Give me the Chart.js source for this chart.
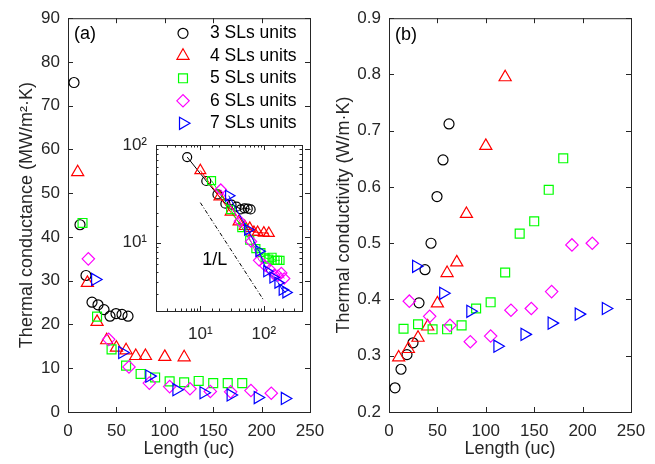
<!DOCTYPE html>
<html>
<head>
<meta charset="utf-8">
<script src="https://cdn.jsdelivr.net/npm/chart.js@4.4.0/dist/chart.umd.min.js"></script>
<style>
  html, body { margin: 0; padding: 0; background: #fff; }
  #wrap { position: relative; width: 655px; height: 464px; }
  #wrap canvas { position: absolute; left: 0; top: 0; }
</style>
</head>
<body>
<div id="wrap">
  <canvas id="cA" width="655" height="464"></canvas>
  <canvas id="cB" width="655" height="464"></canvas>
  <canvas id="cIn" width="655" height="464"></canvas>
</div>
<script>
'use strict';

// lengths (uc) for each superlattice series
var len3 = [6.2, 12.4, 18.6, 24.8, 31, 37.2, 43.4, 49.6, 55.8, 62];
var len4 = [10, 20, 30, 40, 50, 60, 70, 80, 100, 120];
var len5 = [15, 30, 45, 60, 75, 90, 105, 120, 135, 150, 165, 180];
var len6 = [21, 42, 63, 84, 105, 126, 147, 168, 189, 210];
var len7 = [28, 56, 84, 112, 140, 168, 196, 224];

// thermal conductance (MW/m2K), panel (a) and inset
var G3 = [75.3, 42.8, 31.2, 25.1, 24.5, 23.4, 21.9, 22.5, 22.3, 21.9];
var G4 = [54.8, 29.5, 20.6, 16.4, 14.7, 14.1, 12.8, 12.8, 12.6, 12.5];
var G5 = [43.2, 21.8, 14.3, 10.6, 8.7, 7.9, 7.0, 6.8, 7.1, 6.6, 6.6, 6.6];
var G6 = [35.0, 16.6, 10.3, 6.6, 5.8, 5.3, 4.7, 4.6, 4.9, 4.3];
var G7 = [30.3, 13.6, 8.2, 5.1, 4.4, 3.9, 3.3, 3.1];

// thermal conductivity (W/mK), panel (b)
var k3 = [0.243, 0.276, 0.302, 0.323, 0.394, 0.453, 0.500, 0.583, 0.648, 0.712];
var k4 = [0.297, 0.312, 0.332, 0.352, 0.393, 0.447, 0.466, 0.552, 0.673, 0.795];
var k5 = [0.348, 0.356, 0.347, 0.347, 0.354, 0.384, 0.395, 0.448, 0.517, 0.539, 0.595, 0.651];
var k6 = [0.397, 0.370, 0.354, 0.325, 0.335, 0.381, 0.384, 0.414, 0.497, 0.500];
var k7 = [0.459, 0.411, 0.379, 0.317, 0.338, 0.358, 0.374, 0.384];

// 1/L guide line in the inset
var guideX = [10, 100];
var guideY = [25.7, 2.57];

var names = ['3 SLs units', '4 SLs units', '5 SLs units', '6 SLs units', '7 SLs units'];
var lengths = [len3, len4, len5, len6, len7];
var conductance = [G3, G4, G5, G6, G7];
var conductivity = [k3, k4, k5, k6, k7];

// styles
var colors = ['#000000', '#ff0000', '#00ff00', '#ff00ff', '#0000ff'];
var shapes = ['circle', 'triangle', 'rect', 'rectRot', 'triangle'];
var turns = [0, 0, 0, 0, 90];
var sizes = [5, 7, 6.3, 6.2, 7];

var INK = '#262626';
var FONT = '"Liberation Sans", Arial, Helvetica, sans-serif';
Chart.defaults.font.family = FONT;
Chart.defaults.color = INK;

function pairs(xs, ys) {
  return xs.map(function (v, j) { return { x: v, y: ys[j] }; });
}

function markerSets(values, scale, withLine) {
  return names.map(function (n, i) {
    return {
      label: n,
      data: pairs(lengths[i], values[i]),
      pointStyle: shapes[i],
      pointRotation: turns[i],
      pointRadius: sizes[i] * scale,
      pointBorderColor: colors[i],
      pointBackgroundColor: 'rgba(0,0,0,0)',
      pointBorderWidth: 1.2,
      borderColor: colors[i],
      borderWidth: 1,
      showLine: withLine,
      order: names.length - i + 1
    };
  });
}

function tickLen(scale, v) {
  if (scale.type === 'logarithmic') {
    var e = Math.log10(v);
    return Math.abs(e - Math.round(e)) < 1e-6 ? 5 : 2.5;
  }
  return 5;
}

// box around plot area with inward ticks on all sides
var boxTicks = {
  id: 'boxTicks',
  beforeDatasetsDraw: function (chart) {
    var ctx = chart.ctx, a = chart.chartArea;
    var xs = chart.scales.x, ys = chart.scales.y;
    ctx.save();
    ctx.strokeStyle = INK;
    ctx.lineWidth = 1;
    ctx.strokeRect(a.left + 0.5, a.top + 0.5, a.right - a.left, a.bottom - a.top);
    ctx.beginPath();
    xs.ticks.forEach(function (t) {
      var p = Math.round(xs.getPixelForValue(t.value)) + 0.5;
      var l = tickLen(xs, t.value);
      ctx.moveTo(p, a.bottom); ctx.lineTo(p, a.bottom - l);
      ctx.moveTo(p, a.top); ctx.lineTo(p, a.top + l);
    });
    ys.ticks.forEach(function (t) {
      var p = Math.round(ys.getPixelForValue(t.value)) + 0.5;
      var l = tickLen(ys, t.value);
      ctx.moveTo(a.left, p); ctx.lineTo(a.left + l, p);
      ctx.moveTo(a.right, p); ctx.lineTo(a.right - l, p);
    });
    ctx.stroke();
    ctx.restore();
  }
};

// white background for the inset plot area
var whiteBox = {
  id: 'whiteBox',
  beforeDraw: function (chart) {
    var ctx = chart.ctx, a = chart.chartArea;
    ctx.save();
    ctx.fillStyle = '#ffffff';
    ctx.fillRect(a.left, a.top, a.right - a.left, a.bottom - a.top);
    ctx.restore();
  }
};

// free text labels: (a), (b), 1/L
var notes = {
  id: 'notes',
  afterDatasetsDraw: function (chart, args, opts) {
    var ctx = chart.ctx;
    (opts.items || []).forEach(function (it) {
      var x = it.data ? chart.scales.x.getPixelForValue(it.x) : it.x;
      var y = it.data ? chart.scales.y.getPixelForValue(it.y) : it.y;
      ctx.save();
      ctx.fillStyle = it.color || '#000';
      ctx.font = (it.size || 18) + 'px ' + FONT;
      ctx.textAlign = 'left';
      ctx.textBaseline = 'middle';
      ctx.fillText(it.text, x, y);
      ctx.restore();
    });
  }
};

// legend drawn inside panel (a)
var keyBox = {
  id: 'keyBox',
  afterDatasetsDraw: function (chart, args, opts) {
    var ctx = chart.ctx;
    names.forEach(function (n, i) {
      var y = opts.top + i * opts.step;
      ctx.save();
      ctx.strokeStyle = colors[i];
      ctx.fillStyle = 'rgba(0,0,0,0)';
      ctx.lineWidth = 1.2;
      Chart.helpers.drawPoint(ctx, { pointStyle: shapes[i], rotation: turns[i], radius: sizes[i], borderWidth: 1.2 }, opts.mark, y);
      ctx.restore();
      ctx.save();
      ctx.fillStyle = '#000';
      ctx.font = opts.size + 'px ' + FONT;
      ctx.textAlign = 'left';
      ctx.textBaseline = 'middle';
      ctx.fillText(n, opts.text, y);
      ctx.restore();
    });
  }
};

function linAxis(min, max, step, title, fixed, isX, titlePad) {
  return {
    type: 'linear',
    min: min, max: max,
    grid: { display: false, drawTicks: false },
    border: { display: false },
    ticks: {
      stepSize: step, autoSkip: false, padding: isX ? 9 : 8,
      maxRotation: 0, minRotation: 0,
      color: INK, font: { size: 17 },
      callback: function (v) { return step < 1 ? v.toFixed(1) : String(v); }
    },
    title: { display: true, text: title, color: INK, font: { size: 18 }, padding: titlePad },
    afterFit: function (s) { if (isX) { s.height = fixed; } else { s.width = fixed; } }
  };
}

function logAxis(min, max, fixed, isX) {
  return {
    type: 'logarithmic',
    min: min, max: max,
    grid: { display: false, drawTicks: false },
    border: { display: false },
    ticks: {
      autoSkip: false, padding: isX ? 13 : 9,
      maxRotation: 0, minRotation: 0,
      color: INK, font: { size: 17 },
      callback: function (v) {
        var e = Math.log10(v);
        if (Math.abs(e - 1) < 1e-6) return '10\u00b9';
        if (Math.abs(e - 2) < 1e-6) return '10\u00b2';
        return '';
      }
    },
    afterFit: function (s) { if (isX) { s.height = fixed; } else { s.width = fixed; } }
  };
}

var common = { responsive: false, animation: false, events: [] };

// panel (a)
new Chart(document.getElementById('cA'), {
  type: 'scatter',
  data: { datasets: markerSets(conductance, 1, false) },
  options: Object.assign({}, common, {
    layout: { padding: { left: 0, top: 17, right: 345, bottom: 0 } },
    plugins: {
      legend: { display: false }, tooltip: { enabled: false },
      keyBox: { top: 33.3, step: 22.5, mark: 183, text: 210, size: 17.5 },
      notes: { items: [{ text: '(a)', x: 74, y: 34 }] }
    },
    scales: {
      x: linAxis(0, 250, 50, 'Length (uc)', 52, true, { top: 0, bottom: 4 }),
      y: linAxis(0, 90, 10, 'Thermal conductance (MW/m\u00b2\u00b7K)', 68, false, { top: 16, bottom: 0 })
    }
  }),
  plugins: [boxTicks, keyBox, notes]
});

// panel (b)
new Chart(document.getElementById('cB'), {
  type: 'scatter',
  data: { datasets: markerSets(conductivity, 1, false) },
  options: Object.assign({}, common, {
    layout: { padding: { left: 330, top: 17, right: 24, bottom: 0 } },
    plugins: {
      legend: { display: false }, tooltip: { enabled: false },
      notes: { items: [{ text: '(b)', x: 395, y: 35 }] }
    },
    scales: {
      x: linAxis(0, 250, 50, 'Length (uc)', 52, true, { top: 0, bottom: 4 }),
      y: linAxis(0.2, 0.9, 0.1, 'Thermal conductivity (W/m\u00b7K)', 59, false, { top: 3, bottom: 0 })
    }
  }),
  plugins: [boxTicks, notes]
});

// inset, log-log
var insetSets = markerSets(conductance, 0.9, true);
insetSets.push({
  label: '1/L',
  data: pairs(guideX, guideY),
  showLine: true,
  borderColor: '#000',
  borderWidth: 1,
  borderDash: [4, 2, 1, 2],
  pointRadius: 0,
  order: 10
});
new Chart(document.getElementById('cIn'), {
  type: 'scatter',
  data: { datasets: insetSets },
  options: Object.assign({}, common, {
    layout: { padding: { left: 100, top: 145, right: 353, bottom: 123 } },
    plugins: {
      legend: { display: false }, tooltip: { enabled: false },
      notes: { items: [{ text: '1/L', x: 10.7, y: 6.6, data: true }] }
    },
    scales: {
      x: logAxis(2, 400, 30, true),
      y: logAxis(2, 100, 56, false)
    }
  }),
  plugins: [whiteBox, boxTicks, notes]
});
</script>
</body>
</html>
